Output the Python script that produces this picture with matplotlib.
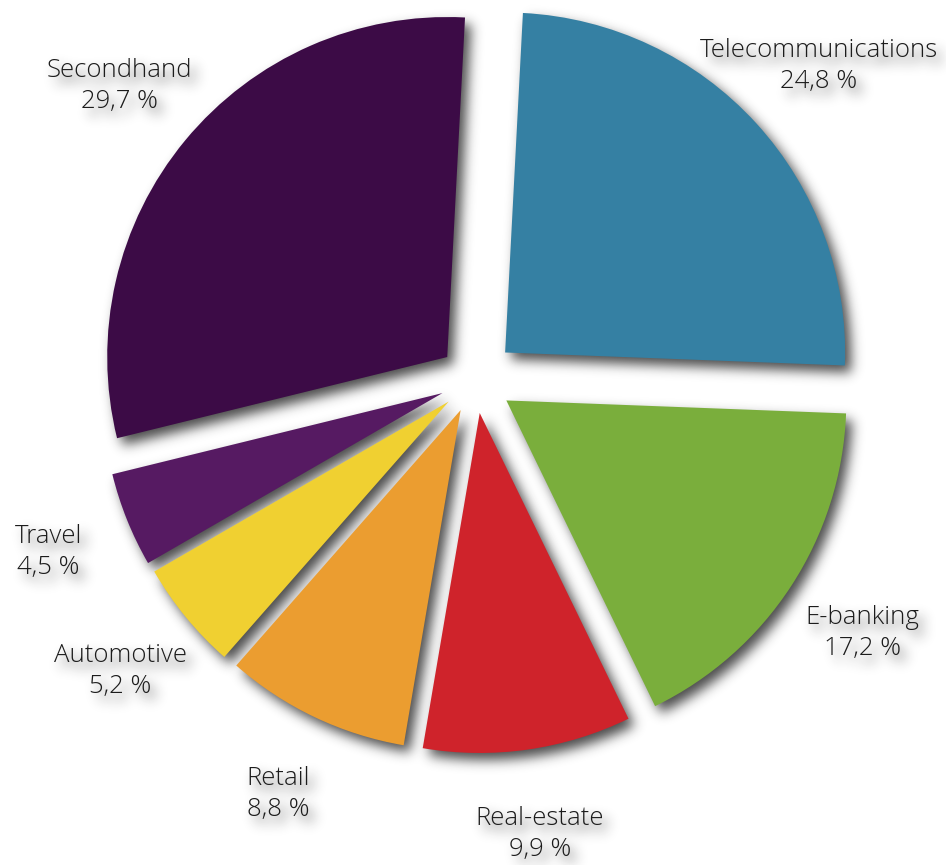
import numpy as np
import matplotlib
matplotlib.use("Agg")
import matplotlib.pyplot as plt

# Data
categories = ["Telecommunications", "E-banking", "Real-estate", "Retail",
              "Automotive", "Travel", "Secondhand"]
shares = [24.8, 17.2, 9.9, 8.8, 5.2, 4.5, 29.7]
colors = ["#3580a3", "#7aae3c", "#cf232b", "#eb9d30", "#f0d031", "#561a62", "#3c0b46"]
explode = [0.12, 0.11, 0.098, 0.098, 0.1, 0.103, 0.106]

labels = [f"{c}\n{str(v).replace('.', ',')} %" for c, v in zip(categories, shares)]

W, H = 946, 865
CX, CY, R = 475, 380, 340   # pie centre / radius in pixels (image coords)
XLIM = (-CX / R, (W - CX) / R)
YLIM = (-(H - CY) / R, CY / R)


def make_axes():
    fig = plt.figure(figsize=(W / 100, H / 100), dpi=100)
    ax = fig.add_axes([0, 0, 1, 1])
    ax.set_xlim(*XLIM)
    ax.set_ylim(*YLIM)
    ax.set_aspect("equal")
    ax.axis("off")
    return fig, ax


def draw_pie(ax, fill, textcolor):
    wedges, texts = ax.pie(shares, labels=labels, colors=fill, startangle=87,
                           counterclock=False, explode=explode, radius=1,
                           labeldistance=1.25,
                           textprops=dict(fontsize=18.5, family="Open Sans", weight="light",
                                          color=textcolor, linespacing=1.32),
                           wedgeprops=dict(linewidth=0))
    for t in texts:
        t.set_ha("center")
        t.set_va("center")
        t.set_multialignment("center")
    ax.set_xlim(*XLIM)
    ax.set_ylim(*YLIM)
    return wedges, texts


def blur(img, sigma):
    r = int(3 * sigma)
    k = np.exp(-0.5 * (np.arange(-r, r + 1) / sigma) ** 2)
    k /= k.sum()
    out = np.apply_along_axis(lambda m: np.convolve(m, k, mode="same"), 1, img)
    out = np.apply_along_axis(lambda m: np.convolve(m, k, mode="same"), 0, out)
    return out


# shadow mask: render the pie in black, then blur and shift it
sfig, sax = make_axes()
draw_pie(sax, ["black"] * len(shares), "black")
sfig.canvas.draw()
buf = np.asarray(sfig.canvas.buffer_rgba())[:, :, 0].astype(float)
plt.close(sfig)
mask = 1 - buf / 255.0
mask = np.roll(mask, (7, 6), axis=(0, 1))
shadow = blur(mask, 6) * 0.8

rgba = np.zeros((mask.shape[0], mask.shape[1], 4))
rgba[:, :, :3] = 0.12
rgba[:, :, 3] = np.clip(shadow, 0, 1)

fig, ax = make_axes()
ax.imshow(rgba, extent=(XLIM[0], XLIM[1], YLIM[0], YLIM[1]), origin="upper",
          zorder=0, interpolation="bilinear")
draw_pie(ax, colors, "#1c1c1c")

fig.savefig("out.png", dpi=100)
